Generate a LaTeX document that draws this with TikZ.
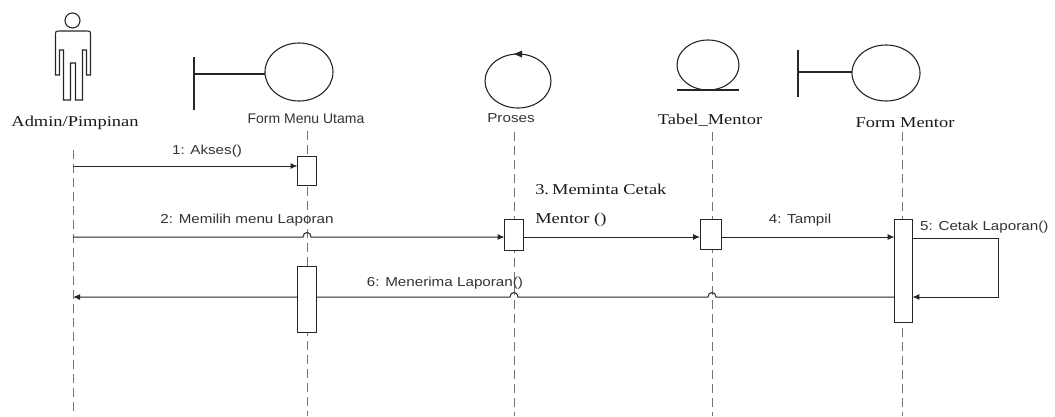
\documentclass[tikz,border=0pt]{standalone}
\usepackage{fontspec}
\setmainfont{Liberation Serif}
\newfontfamily\arialf{Liberation Sans}
\usetikzlibrary{arrows.meta}
\begin{document}
\begin{tikzpicture}[x=1pt,y=-1pt,
  sanslbl/.style={font=\arialf\fontsize{13}{15}\selectfont, text=black!80, inner sep=0pt, xscale=1.17},
  bigsans/.style={font=\arialf\fontsize{14}{16}\selectfont, text=black!80, inner sep=0pt},
  seriflbl/.style={font=\fontsize{15}{17}\selectfont, text=black!90, inner sep=0pt, xscale=1.23},
  lifeline/.style={draw=black!55, dash pattern=on 9pt off 5pt, line width=0.9pt},
  sym/.style={draw=black!85, line width=1.1pt},
  actbox/.style={rectangle, draw=black!85, fill=white, line width=0.9pt, minimum width=18pt, inner sep=0pt},
  msg/.style={draw=black!85, line width=1pt},
  arr/.style={-{Latex[length=7pt,width=6pt]}},
]
\useasboundingbox (0,0) rectangle (1055,416);

% ---------- symbols ----------
% actor
\draw[sym] (72.5,20.5) circle (7.5);
\draw[sym] (55.5,75) -- (55.5,36) .. controls (55.5,31) .. (60.5,31) -- (85.5,31)
  .. controls (90.5,31) .. (90.5,36) -- (90.5,75) -- (86.5,75) -- (86.5,50) -- (82.5,50)
  -- (82.5,100) -- (75.5,100) -- (75.5,63) -- (70.5,63) -- (70.5,100) -- (63.5,100)
  -- (63.5,50) -- (59.5,50) -- (59.5,75) -- cycle;
\node[seriflbl] (nAdmin) at (75,123) {Admin/Pimpinan};

% boundary: Form Menu Utama
\draw[sym] (194,57) -- (194,110);
\draw[sym] (194,74) -- (265,74);
\draw[sym] (299,72) ellipse [x radius=34, y radius=29];
\node[bigsans] (nFMU) at (306,119) {Form Menu Utama};

% control: Proses
\draw[sym] (518,81) ellipse [x radius=33, y radius=27];
\fill[black!85] (514,54) -- (522,50.5) -- (522,57.5) -- cycle;
\node[sanslbl] (nProses) at (511,118) {Proses};

% entity: Tabel_Mentor
\draw[sym] (708,65) ellipse [x radius=31, y radius=25];
\draw[sym] (677,90) -- (739,90);
\node[seriflbl] (nTabel) at (710,120) {Tabel\_Mentor};

% boundary: Form Mentor
\draw[sym] (798,50) -- (798,97);
\draw[sym] (798,72) -- (852,72);
\draw[sym] (886,73) ellipse [x radius=34, y radius=28];
\node[seriflbl] (nFM) at (905,123) {Form Mentor};

% ---------- lifelines ----------
\coordinate (L1t) at (73,150);  \coordinate (L1b) at (73,416);
\coordinate (L2t) at (307,131); \coordinate (L2b) at (307,416);
\coordinate (L3t) at (514,132); \coordinate (L3b) at (514,416);
\coordinate (L4t) at (712,132); \coordinate (L4b) at (712,416);
\coordinate (L5t) at (902,132); \coordinate (L5b) at (902,416);
\foreach \t/\b in {L1t/L1b,L2t/L2b,L3t/L3b,L4t/L4b,L5t/L5b}
  \draw[lifeline] (\t) -- (\b);

% ---------- activation boxes (placed, drawn later) ----------
\path
  (307,171)   node[actbox, minimum height=28pt, draw=none, fill=none] (a1) {}
  (307,299.5) node[actbox, minimum height=65pt, draw=none, fill=none] (a2) {}
  (514,235)   node[actbox, minimum height=30pt, draw=none, fill=none] (p1) {}
  (711,234.5) node[actbox, minimum width=21pt, minimum height=29pt, draw=none, fill=none] (t1) {}
  (903.5,271) node[actbox, minimum width=17pt, minimum height=102pt, draw=none, fill=none] (f1) {};

% ---------- messages ----------
\coordinate (m1) at (0,166);
\coordinate (m2) at (0,237);
\coordinate (m5a) at (0,238);
\coordinate (m6) at (0,297);
\coordinate (selfR) at (998,0);

\draw[msg,arr] (L1t |- m1) -- (a1.west |- m1);
\node[sanslbl] (l1) at (207,151) {1: Akses()};

\draw[msg,arr] (L1t |- m2) -- (303,237) .. controls (303,231) and (311,231) .. (311,237) -- (p1.west |- m2);
\node[sanslbl] (l2) at (247,220) {2: Memilih menu Laporan};

\draw[msg,arr] (p1.east |- m2) -- (t1.west |- m2);
\node[seriflbl, anchor=base west] (l3a) at (535,194) {3.\,Meminta Cetak};
\node[seriflbl, anchor=base west] (l3b) at (535,223) {Mentor ()};

\draw[msg,arr] (t1.east |- m2) -- (f1.west |- m2);
\node[sanslbl] (l4) at (800,220) {4: Tampil};

\draw[msg,arr] (f1.east |- m5a) -- (selfR |- m5a) -- (selfR |- m6) -- (f1.east |- m6);
\node[sanslbl, anchor=west] (l5) at (920,227) {5: Cetak Laporan()};

\draw[msg,arr] (f1.west |- m6) -- (716,297) .. controls (716,291) and (708,291) .. (708,297)
  -- (518,297) .. controls (518,291) and (510,291) .. (510,297) -- (L1t |- m6);
\node[sanslbl] (l6) at (445,283) {6: Menerima Laporan()};

% ---------- activation boxes drawn on top ----------
\foreach \n in {a1,a2,p1,t1,f1}
  \draw[draw=black!85, fill=white, line width=1pt] (\n.north west) rectangle (\n.south east);

\end{tikzpicture}
\end{document}
